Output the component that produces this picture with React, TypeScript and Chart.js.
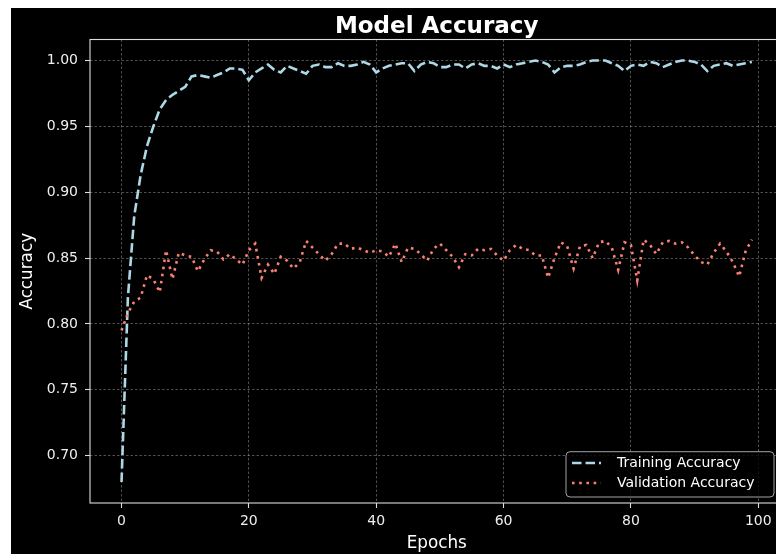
import React, { useEffect, useRef } from "react";
import { Chart, registerables } from "chart.js";

Chart.register(...registerables);

const trainAcc = [
  0.680, 0.820, 0.882, 0.913, 0.935, 0.950, 0.963, 0.970, 0.974, 0.977,
  0.980, 0.988, 0.989, 0.988, 0.987, 0.989, 0.991, 0.994, 0.994, 0.993,
  0.985, 0.991, 0.994, 0.997, 0.993, 0.991, 0.996, 0.994, 0.992, 0.990,
  0.996, 0.997, 0.995, 0.995, 0.998, 0.996, 0.996, 0.997, 0.999, 0.997,
  0.991, 0.994, 0.996, 0.997, 0.998, 0.998, 0.992, 0.997, 0.999, 0.998,
  0.995, 0.995, 0.997, 0.997, 0.994, 0.997, 0.998, 0.996, 0.996, 0.994,
  0.997, 0.995, 0.997, 0.998, 0.999, 1.000, 0.999, 0.997, 0.991, 0.995,
  0.996, 0.996, 0.997, 0.999, 1.000, 1.000, 1.000, 0.998, 0.996, 0.992,
  0.996, 0.997, 0.996, 0.999, 0.998, 0.995, 0.997, 0.999, 1.000, 1.000,
  0.999, 0.997, 0.992, 0.996, 0.997, 0.998, 0.996, 0.997, 0.998, 0.999,
];

const valAcc = [
  0.795, 0.808, 0.817, 0.820, 0.837, 0.834, 0.824, 0.856, 0.834, 0.854,
  0.852, 0.851, 0.840, 0.849, 0.856, 0.855, 0.849, 0.853, 0.849, 0.845,
  0.856, 0.861, 0.835, 0.845, 0.838, 0.851, 0.848, 0.842, 0.847, 0.863,
  0.858, 0.853, 0.848, 0.853, 0.861, 0.861, 0.857, 0.858, 0.856, 0.854,
  0.856, 0.855, 0.851, 0.861, 0.847, 0.858, 0.857, 0.853, 0.848, 0.857,
  0.861, 0.856, 0.851, 0.843, 0.853, 0.852, 0.857, 0.856, 0.857, 0.852,
  0.848, 0.856, 0.860, 0.857, 0.856, 0.852, 0.852, 0.835, 0.850, 0.862,
  0.859, 0.842, 0.859, 0.860, 0.850, 0.862, 0.863, 0.858, 0.841, 0.862,
  0.860, 0.833, 0.864, 0.860, 0.853, 0.862, 0.863, 0.861, 0.862, 0.858,
  0.852, 0.847, 0.845, 0.854, 0.861, 0.855, 0.847, 0.836, 0.855, 0.864,
];

const xTicks = [0, 20, 40, 60, 80, 100];
const yTicks = [0.7, 0.75, 0.8, 0.85, 0.9, 0.95, 1.0];
const seriesLabels = ["Training Accuracy", "Validation Accuracy"];
const titleText = "Model Accuracy";
const xTitle = "Epochs";
const yTitle = "Accuracy";

const TRAIN_COLOR = "#add8e6";
const VAL_COLOR = "#fa8072";
const TRAIN_DASH = [9.5, 4];
const VAL_DASH = [2.6, 4.6];
const FONT = '"DejaVu Sans", sans-serif';

const decorPlugin = {
  id: "decor",
  beforeDraw(chart: any) {
    const ctx = chart.ctx;
    ctx.save();
    ctx.fillStyle = "#000000";
    ctx.fillRect(0, 0, chart.width, chart.height);
    ctx.restore();
  },
  afterDraw(chart: any) {
    const ctx = chart.ctx;
    const a = chart.chartArea;
    ctx.save();
    // frame
    ctx.strokeStyle = "#dddddd";
    ctx.lineWidth = 1.1;
    ctx.setLineDash([]);
    ctx.strokeRect(a.left, a.top, a.right - a.left, a.bottom - a.top);
    // title
    ctx.fillStyle = "#ffffff";
    ctx.font = "bold 23px " + FONT;
    ctx.textAlign = "center";
    ctx.textBaseline = "alphabetic";
    ctx.fillText(titleText, (a.left + a.right) / 2, 25);
    // legend
    const lx = 555, ly = 443.7, lw = 208, lh = 45.3;
    ctx.beginPath();
    ctx.roundRect(lx, ly, lw, lh, 4);
    ctx.fillStyle = "rgba(0,0,0,0.8)";
    ctx.fill();
    ctx.strokeStyle = "rgba(204,204,204,0.8)";
    ctx.lineWidth = 1;
    ctx.stroke();
    const rows = [
      { y: 455, color: TRAIN_COLOR, dash: TRAIN_DASH, label: seriesLabels[0] },
      { y: 475, color: VAL_COLOR, dash: VAL_DASH, label: seriesLabels[1] },
    ];
    ctx.font = "14px " + FONT;
    ctx.textAlign = "left";
    ctx.textBaseline = "middle";
    for (const r of rows) {
      ctx.beginPath();
      ctx.setLineDash(r.dash);
      ctx.strokeStyle = r.color;
      ctx.lineWidth = 2.6;
      ctx.moveTo(561, r.y);
      ctx.lineTo(590, r.y);
      ctx.stroke();
      ctx.setLineDash([]);
      ctx.fillStyle = "#ffffff";
      ctx.fillText(r.label, 606, r.y);
    }
    ctx.restore();
  },
};

export default function App() {
  const ref = useRef<HTMLCanvasElement | null>(null);

  useEffect(() => {
    if (!ref.current) return;
    Chart.defaults.font.family = FONT;
    const chart = new Chart(ref.current, {
      type: "line",
      data: {
        datasets: [
          {
            label: seriesLabels[0],
            data: trainAcc.map((v, i) => ({ x: i, y: v })),
            borderColor: TRAIN_COLOR,
            borderWidth: 2.6,
            borderDash: TRAIN_DASH,
            pointRadius: 0,
            tension: 0,
            fill: false,
            order: 1,
          },
          {
            label: seriesLabels[1],
            data: valAcc.map((v, i) => ({ x: i, y: v })),
            borderColor: VAL_COLOR,
            borderWidth: 2.6,
            borderDash: VAL_DASH,
            pointRadius: 0,
            tension: 0,
            fill: false,
            order: 0,
          },
        ],
      },
      options: {
        animation: false,
        responsive: false,
        events: [],
        layout: { padding: { left: 0, right: 27.6, top: 31.5, bottom: 0 } },
        plugins: {
          legend: { display: false },
          title: { display: false },
          tooltip: { enabled: false },
        },
        scales: {
          x: {
            type: "linear",
            min: -4.95,
            max: 103.95,
            afterFit: (s: any) => {
              s.height = 51;
            },
            afterBuildTicks: (s: any) => {
              s.ticks = xTicks.map((v) => ({ value: v }));
            },
            ticks: {
              color: "#eeeeee",
              font: { size: 14 },
              padding: 5,
              maxRotation: 0,
              callback: (v: any) => String(v),
            },
            grid: {
              color: "rgba(190,190,190,0.6)",
              lineWidth: 0.7,
              drawTicks: true,
              tickLength: 5,
              tickColor: "#dddddd",
              tickWidth: 1.1,
              tickBorderDash: [],
            },
            border: { display: false, dash: [2.5, 2] },
            title: {
              display: true,
              text: xTitle,
              color: "#ffffff",
              font: { size: 16.8 },
              padding: { top: 0, bottom: 0 },
            },
          },
          y: {
            type: "linear",
            min: 0.664,
            max: 1.016,
            afterFit: (s: any) => {
              s.width = 79;
            },
            afterBuildTicks: (s: any) => {
              s.ticks = yTicks.map((v) => ({ value: v }));
            },
            ticks: {
              color: "#eeeeee",
              font: { size: 14 },
              padding: 7,
              callback: (v: any) => Number(v).toFixed(2),
            },
            grid: {
              color: "rgba(190,190,190,0.6)",
              lineWidth: 0.7,
              drawTicks: true,
              tickLength: 5,
              tickColor: "#dddddd",
              tickWidth: 1.1,
              tickBorderDash: [],
            },
            border: { display: false, dash: [2.5, 2] },
            title: {
              display: true,
              text: yTitle,
              color: "#ffffff",
              font: { size: 16.8 },
              padding: { top: 7, bottom: 0 },
            },
          },
        },
      },
      plugins: [decorPlugin],
    });
    return () => chart.destroy();
  }, []);

  return (
    <div
      style={{
        position: "fixed",
        left: 11,
        top: 8,
        width: 765,
        height: 546,
        overflow: "hidden",
        background: "#000",
      }}
    >
      <canvas ref={ref} width={800} height={546} style={{ display: "block" }} />
    </div>
  );
}
